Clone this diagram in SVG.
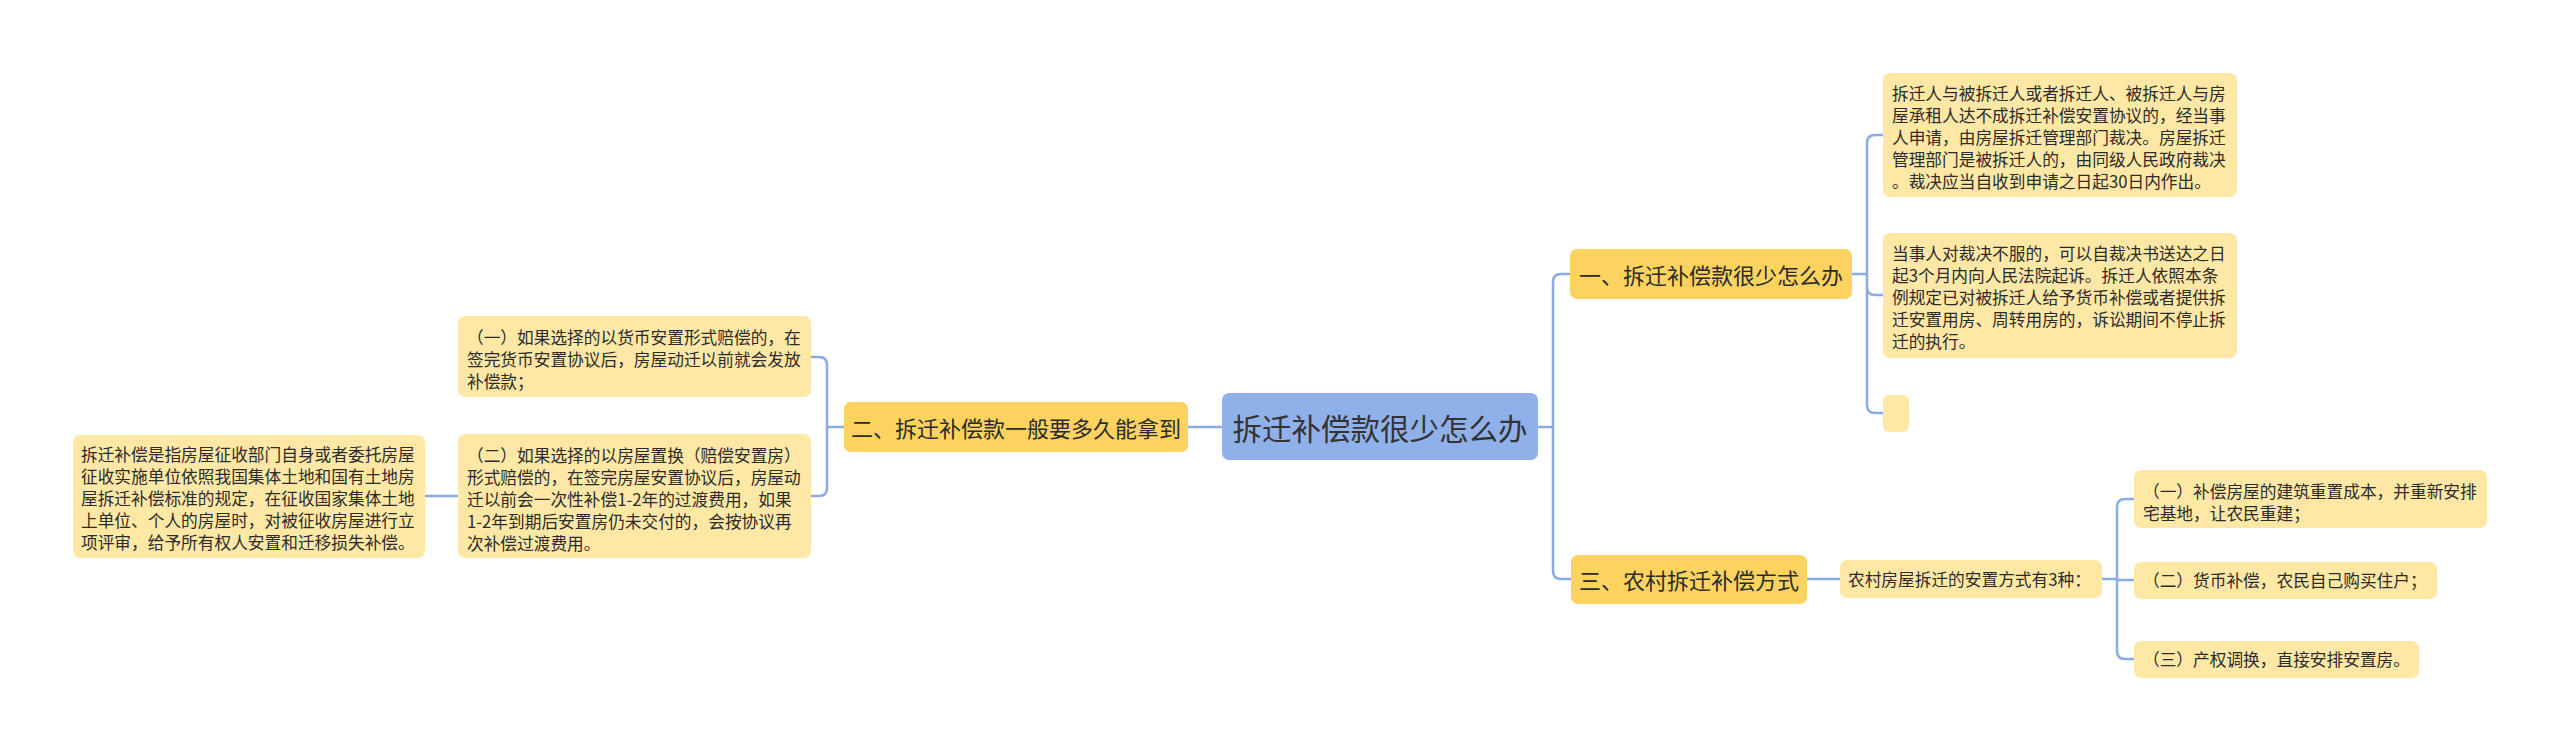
<svg xmlns="http://www.w3.org/2000/svg" width="2560" height="751" viewBox="0 0 2560 751">
<style>
text{font-family:"Noto Sans CJK SC","Noto Sans",sans-serif;fill:#2b2b2b;dominant-baseline:central}
.root{fill:#8fb0e9}
.l1{fill:#fcd35e}
.l2{fill:#ffe8a6}
.t1{font-size:22px;text-anchor:middle}
.t2{font-size:16.7px}
.c{fill:none;stroke:#8aabe4;stroke-width:2.5}
</style>
<rect width="2560" height="751" fill="#ffffff"/>
<g id="connectors">
<path class="c" d="M1222,427 H1188"/>
<path class="c" d="M1538,427 H1553 M1553,427 V282 Q1553,274 1561,274 H1570 M1553,427 V571 Q1553,579 1561,579 H1571"/>
<path class="c" d="M1852,274 H1867 M1867,274 V143 Q1867,135 1875,135 H1883 M1867,274 V287 Q1867,295 1875,295 H1883 M1867,274 V405 Q1867,413 1875,413 H1883"/>
<path class="c" d="M1807,579 H1840"/>
<path class="c" d="M2102,579 H2117 M2117,579 V507 Q2117,499 2125,499 H2134 M2117,579 V580 H2134 M2117,579 V651 Q2117,659 2125,659 H2134"/>
<path class="c" d="M844,427 H827 M827,427 V365 Q827,357 819,357 H811 M827,427 V488 Q827,496 819,496 H811"/>
<path class="c" d="M458,496 H425"/>
</g>
<g id="root">
<rect class="root" x="1222" y="393" width="316" height="67" rx="7"/>
<text x="1380" y="427" style="font-size:29.5px;text-anchor:middle;fill:#333333">拆迁补偿款很少怎么办</text>
</g>
<g id="n1">
<rect class="l1" x="1570" y="249" width="282" height="50" rx="7"/>
<text class="t1" x="1711" y="274">一、拆迁补偿款很少怎么办</text>
</g>
<g id="n1a">
<rect class="l2" x="1883" y="73" width="354" height="124" rx="7"/>
<text class="t2" x="1892" y="93">拆迁人与被拆迁人或者拆迁人、被拆迁人与房</text>
<text class="t2" x="1892" y="115">屋承租人达不成拆迁补偿安置协议的，经当事</text>
<text class="t2" x="1892" y="137">人申请，由房屋拆迁管理部门裁决。房屋拆迁</text>
<text class="t2" x="1892" y="159">管理部门是被拆迁人的，由同级人民政府裁决</text>
<text class="t2" x="1892" y="181">。裁决应当自收到申请之日起30日内作出。</text>
</g>
<g id="n1b">
<rect class="l2" x="1883" y="233" width="354" height="125" rx="7"/>
<text class="t2" x="1892" y="253">当事人对裁决不服的，可以自裁决书送达之日</text>
<text class="t2" x="1892" y="275">起3个月内向人民法院起诉。拆迁人依照本条</text>
<text class="t2" x="1892" y="297">例规定已对被拆迁人给予货币补偿或者提供拆</text>
<text class="t2" x="1892" y="319">迁安置用房、周转用房的，诉讼期间不停止拆</text>
<text class="t2" x="1892" y="341">迁的执行。</text>
</g>
<g id="n1c">
<rect class="l2" x="1883" y="395" width="26" height="37" rx="6"/>
</g>
<g id="n3">
<rect class="l1" x="1571" y="555" width="236" height="49" rx="7"/>
<text class="t1" x="1689" y="579">三、农村拆迁补偿方式</text>
</g>
<g id="n3a">
<rect class="l2" x="1840" y="560" width="262" height="38" rx="7"/>
<text class="t2" x="1848" y="579">农村房屋拆迁的安置方式有3种：</text>
</g>
<g id="n3a1">
<rect class="l2" x="2134" y="470" width="353" height="58" rx="7"/>
<text class="t2" x="2143" y="491">（一）补偿房屋的建筑重置成本，并重新安排</text>
<text class="t2" x="2143" y="513">宅基地，让农民重建；</text>
</g>
<g id="n3a2">
<rect class="l2" x="2134" y="562" width="303" height="37" rx="7"/>
<text class="t2" x="2143" y="580">（二）货币补偿，农民自己购买住户；</text>
</g>
<g id="n3a3">
<rect class="l2" x="2134" y="641" width="285" height="37" rx="7"/>
<text class="t2" x="2143" y="659">（三）产权调换，直接安排安置房。</text>
</g>
<g id="n2">
<rect class="l1" x="844" y="402" width="344" height="50" rx="7"/>
<text class="t1" x="1016" y="427">二、拆迁补偿款一般要多久能拿到</text>
</g>
<g id="n2a">
<rect class="l2" x="458" y="316" width="353" height="81" rx="7"/>
<text class="t2" x="467" y="337">（一）如果选择的以货币安置形式赔偿的，在</text>
<text class="t2" x="467" y="359">签完货币安置协议后，房屋动迁以前就会发放</text>
<text class="t2" x="467" y="381">补偿款；</text>
</g>
<g id="n2b">
<rect class="l2" x="458" y="434" width="353" height="124" rx="7"/>
<text class="t2" x="467" y="455">（二）如果选择的以房屋置换（赔偿安置房）</text>
<text class="t2" x="467" y="477">形式赔偿的，在签完房屋安置协议后，房屋动</text>
<text class="t2" x="467" y="499">迁以前会一次性补偿1-2年的过渡费用，如果</text>
<text class="t2" x="467" y="521">1-2年到期后安置房仍未交付的，会按协议再</text>
<text class="t2" x="467" y="543">次补偿过渡费用。</text>
</g>
<g id="n2b1">
<rect class="l2" x="73" y="435" width="352" height="123" rx="7"/>
<text class="t2" x="81" y="454">拆迁补偿是指房屋征收部门自身或者委托房屋</text>
<text class="t2" x="81" y="476">征收实施单位依照我国集体土地和国有土地房</text>
<text class="t2" x="81" y="498">屋拆迁补偿标准的规定，在征收国家集体土地</text>
<text class="t2" x="81" y="520">上单位、个人的房屋时，对被征收房屋进行立</text>
<text class="t2" x="81" y="542">项评审，给予所有权人安置和迁移损失补偿。</text>
</g>
</svg>
